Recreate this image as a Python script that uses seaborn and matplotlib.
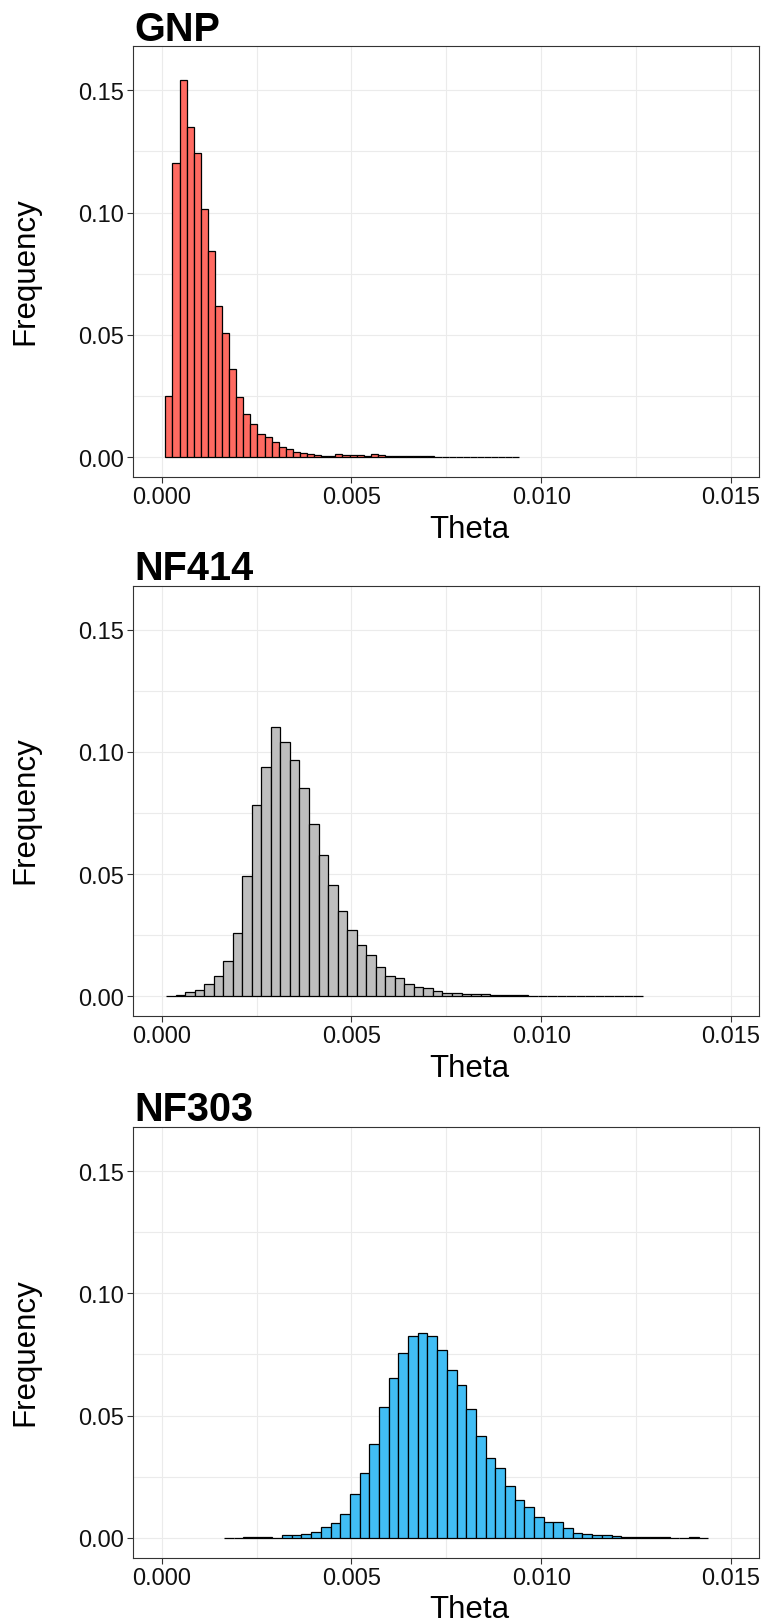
import numpy as np
import pandas as pd
import matplotlib
matplotlib.use("Agg")
import matplotlib.pyplot as plt
import seaborn as sns

# ---- data: relative frequency of theta per bin (50 bins per sample) ----
samples = ["GNP", "NF414", "NF303"]
fill_colors = ["#FF6A61", "#BEBEBE", "#41BDF4"]

gnp_range = (0.000095, 0.009429)
gnp_freq = [0.0252, 0.1201, 0.1541, 0.1351, 0.1243, 0.1013, 0.0844, 0.0619, 0.0509, 0.0361,
            0.0248, 0.0175, 0.0135, 0.0094, 0.0081, 0.0063, 0.0041, 0.0033, 0.0021, 0.0019,
            0.0012, 0.0011, 0.0007, 0.0007, 0.0012, 0.0010, 0.0010, 0.0008, 0.0007, 0.0012,
            0.0008, 0.0005, 0.0003, 0.0005, 0.0003, 0.0007, 0.0004, 0.0003, 0.0001, 0.0002,
            0.0001, 0.0001, 0.0001, 0.0002, 0.0001, 0.0001, 0.0002, 0.0001, 0.0001, 0.0001]

nf414_range = (0.000113, 0.012674)
nf414_freq = [0.0003, 0.0007, 0.0019, 0.0027, 0.0050, 0.0084, 0.0145, 0.0261, 0.0491, 0.0784,
              0.0939, 0.1101, 0.1041, 0.0968, 0.0854, 0.0704, 0.0579, 0.0457, 0.0351, 0.0271,
              0.0209, 0.0168, 0.0121, 0.0083, 0.0077, 0.0052, 0.0038, 0.0033, 0.0022, 0.0014,
              0.0012, 0.0009, 0.0009, 0.0008, 0.0004, 0.0004, 0.0005, 0.0005, 0.0003, 0.0001,
              0.0001, 0.0003, 0.0001, 0.0002, 0.0001, 0.0001, 0.0001, 0.0001, 0.0001, 0.0002]

nf303_range = (0.00164, 0.01441)
nf303_freq = [0.0001, 0.0001, 0.0003, 0.0002, 0.0003, 0.0001, 0.0012, 0.0012, 0.0016, 0.0023,
              0.0044, 0.0060, 0.0098, 0.0180, 0.0265, 0.0385, 0.0535, 0.0652, 0.0755, 0.0824,
              0.0839, 0.0824, 0.0770, 0.0688, 0.0626, 0.0526, 0.0415, 0.0326, 0.0284, 0.0211,
              0.0156, 0.0126, 0.0084, 0.0065, 0.0065, 0.0042, 0.0020, 0.0018, 0.0012, 0.0012,
              0.0008, 0.0005, 0.0004, 0.0004, 0.0004, 0.0003, 0.0001, 0.0001, 0.0003, 0.0001]

x_ticks = [0.000, 0.005, 0.010, 0.015]
x_tick_labels = ["0.000", "0.005", "0.010", "0.015"]
x_minor = [0.0025, 0.0075, 0.0125]
y_ticks = [0.00, 0.05, 0.10, 0.15]
y_tick_labels = ["0.00", "0.05", "0.10", "0.15"]
y_minor = [0.025, 0.075, 0.125]

ranges = [gnp_range, nf414_range, nf303_range]
freqs = [gnp_freq, nf414_freq, nf303_freq]

# ---- assemble a long table: one row per bin, placed at the bin centre ----
frames = []
for name, (lo, hi), fr in zip(samples, ranges, freqs):
    edges = np.linspace(lo, hi, len(fr) + 1)
    centers = (edges[:-1] + edges[1:]) / 2
    frames.append(pd.DataFrame({"sample": name, "theta": centers, "freq": fr}))
df = pd.concat(frames, ignore_index=True)

# ---- style ----
sns.set_style("white")
plt.rcParams["font.family"] = ["Liberation Sans", "DejaVu Sans"]

W, H = 774, 1624
fig = plt.figure(figsize=(W / 100, H / 100), dpi=100)

panel_left, panel_width, panel_height = 133.3, 626.0, 430.5
panel_tops = [47.3, 586.5, 1128.0]

for name, color, top, (lo, hi), fr in zip(samples, fill_colors, panel_tops, ranges, freqs):
    ax = fig.add_axes([panel_left / W, 1 - (top + panel_height) / H,
                       panel_width / W, panel_height / H])
    sub = df[df["sample"] == name]
    sns.histplot(data=sub, x="theta", weights="freq", bins=len(fr), binrange=(lo, hi),
                 stat="count", color=color, alpha=1, edgecolor="black",
                 linewidth=0.9, ax=ax)

    ax.set_xlim(-0.00075, 0.01575)
    ax.set_ylim(-0.008, 0.168)
    ax.set_xticks(x_ticks)
    ax.set_xticklabels(x_tick_labels)
    ax.set_yticks(y_ticks)
    ax.set_yticklabels(y_tick_labels)
    ax.set_xticks(x_minor, minor=True)
    ax.set_yticks(y_minor, minor=True)

    ax.set_axisbelow(True)
    ax.grid(which="major", color="#EBEBEB", linewidth=0.8)
    ax.grid(which="minor", color="#EBEBEB", linewidth=0.8)

    for sp in ax.spines.values():
        sp.set_visible(True)
        sp.set_color("#333333")
        sp.set_linewidth(0.8)

    ax.tick_params(which="major", direction="out", length=4, width=0.8,
                   color="#333333", labelsize=17, labelcolor="#111111", pad=2.5,
                   bottom=True, left=True)
    ax.tick_params(which="minor", length=0)

    ax.set_xlabel("Theta", fontsize=22.5, color="black")
    ax.xaxis.set_label_coords((469 - panel_left) / panel_width, -37.0 / panel_height)
    ax.set_ylabel("Frequency", fontsize=22.5, color="black")
    ax.yaxis.set_label_coords((40 - panel_left) / panel_width, 0.48)

    ax.text(1.5 / panel_width, 1 + 6.5 / panel_height, name, transform=ax.transAxes,
            fontsize=28.5, fontweight="bold", ha="left", va="baseline", color="black")

fig.savefig("out.png", dpi=100)
